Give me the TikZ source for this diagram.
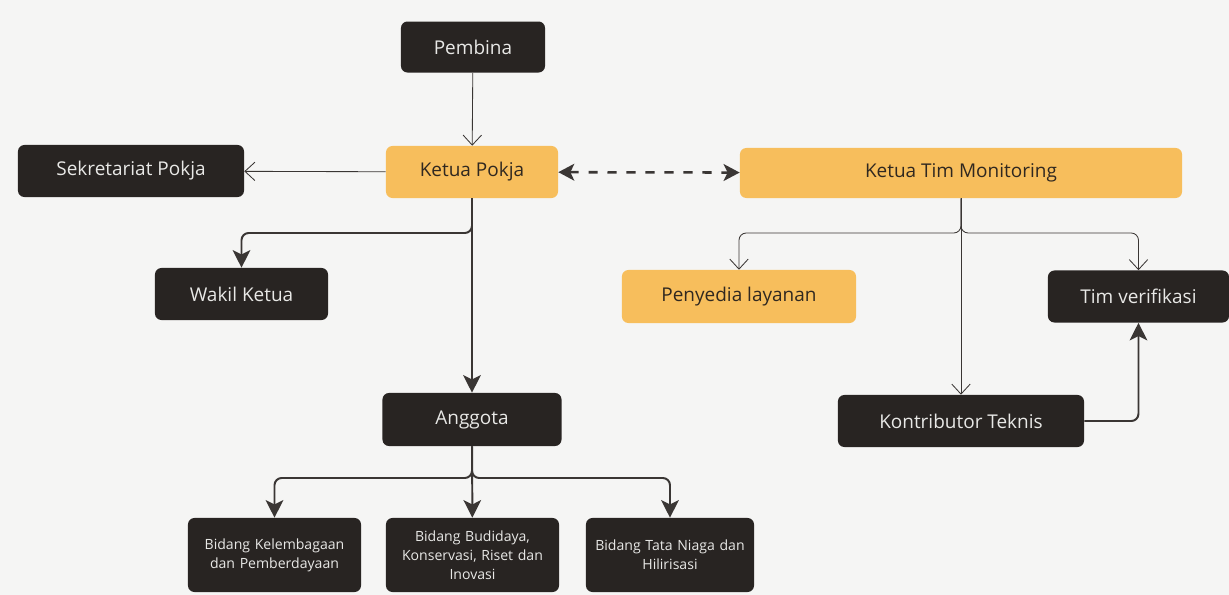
\documentclass[tikz,border=0pt]{standalone}
\usepackage{fontspec}
\setmainfont{Open Sans}
\usetikzlibrary{arrows.meta}
\definecolor{bgpaper}{RGB}{245,245,244}
\definecolor{darkbox}{RGB}{40,36,34}
\definecolor{goldbox}{RGB}{247,190,92}
\definecolor{lighttext}{RGB}{232,232,230}
\definecolor{inktext}{RGB}{48,40,32}
\definecolor{wire}{RGB}{58,54,52}

\begin{document}
\begin{tikzpicture}[x=0.025cm,y=-0.025cm,
		box/.style={rounded corners=0.16cm,inner sep=0pt,minimum height=1.3cm,font=\fontsize{13.5}{16}\selectfont},
		darkpos/.style={box,fill=darkbox,text=lighttext},
		goldpos/.style={box,fill=goldbox,text=inktext},
		bidang/.style={darkpos,minimum height=1.85cm,text width=4.1cm,align=center,font=\fontsize{10}{13.5}\selectfont},
		thinline/.style={draw=wire,line width=0.6pt,-{Straight Barb[length=2.5mm,width=4.6mm]}},
		thickline/.style={draw=wire,line width=1.4pt,rounded corners=0.18cm,-{Stealth[length=4.4mm,width=4.4mm,inset=1.1mm]}}]
		\fill[bgpaper] (0,0) rectangle (1229,595);
		\node[darkpos,minimum width=3.6cm,minimum height=1.275cm] (pembina) at (473,47) {Pembina};
		\node[goldpos,minimum width=4.3cm] (kpokja) at (472,172) {Ketua Pokja};
		\node[darkpos,minimum width=5.65cm] (sekre) at (131,171) {Sekretariat Pokja};
		\node[goldpos,minimum width=11.05cm,minimum height=1.25cm] (ktm) at (961,173) {Ketua Tim Monitoring};
		\node[darkpos,minimum width=4.325cm] (wakil) at (241.5,294) {Wakil Ketua};
		\node[goldpos,minimum width=5.85cm,minimum height=1.325cm] (penyedia) at (739,296.5) {Penyedia layanan};
		\node[darkpos,minimum width=4.525cm] (timver) at (1138.5,296.5) {Tim verifikasi};
		\node[darkpos,minimum width=4.475cm,minimum height=1.325cm] (anggota) at (472,419.5) {Anggota};
		\node[darkpos,minimum width=6.15cm] (kontrib) at (961,421) {Kontributor Teknis};
		\node[bidang,minimum width=4.325cm] (bkel) at (274.5,555) {Bidang Kelembagaan\\dan Pemberdayaan};
		\node[bidang,minimum width=4.325cm] (bbud) at (472.5,555) {Bidang Budidaya,\\Konservasi, Riset dan\\Inovasi};
		\node[bidang,minimum width=4.2cm] (btata) at (670,555) {Bidang Tata Niaga dan\\Hilirisasi};
		\coordinate (kpfork) at (472,233);
		\coordinate (ktmfork) at (961,233);
		\coordinate (agfork) at (472,478);
		\draw[thinline] (pembina) -- (kpokja);
		\draw[thinline] (kpokja) -- (sekre);
		\draw[thickline] (kpokja) -- (anggota);
		\draw[thickline] (kpokja.south) |- (wakil.north |- kpfork) -- (wakil.north);
		\draw[wire,line width=1.8pt,dash pattern=on 6.5pt off 7pt,{Stealth[length=4mm,width=4.2mm,inset=1mm]}-{Stealth[length=4mm,width=4.2mm,inset=1mm]}] (kpokja) -- (ktm);
		\draw[thinline] (ktm.south) -- (kontrib.north);
		\draw[thinline,rounded corners=0.18cm] (ktm.south) |- (penyedia.north |- ktmfork) -- (penyedia.north);
		\draw[thinline,rounded corners=0.18cm] (ktm.south) |- (timver.north |- ktmfork) -- (timver.north);
		\draw[thickline] (kontrib.east) -| (timver.south);
		\draw[thickline] (anggota.south) |- (bkel.north |- agfork) -- (bkel.north);
		\draw[thickline] (anggota) -- (bbud);
		\draw[thickline] (anggota.south) |- (btata.north |- agfork) -- (btata.north);
	\end{tikzpicture}
\end{document}
